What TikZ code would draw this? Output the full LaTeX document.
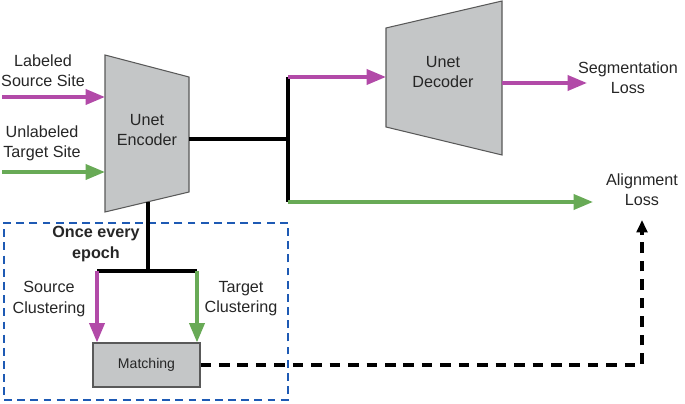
\documentclass[tikz,border=0pt]{standalone}
\usepackage{fontspec}
\setmainfont{Liberation Sans}
\usepackage{tikz}
\usetikzlibrary{positioning,arrows.meta}

\definecolor{srcpink}{RGB}{178,74,168}
\definecolor{tgtgreen}{RGB}{104,170,86}
\definecolor{boxgray}{RGB}{196,198,199}
\definecolor{epochblue}{RGB}{30,90,180}

\begin{document}
\begin{tikzpicture}[
    x=0.02cm, y=-0.02cm,
    lbl/.style={align=center, text=black!85, font=\fontsize{9.2}{11.5}\selectfont, inner sep=0pt},
    block/.style={draw=black!65, fill=boxgray, line width=0.6pt},
    arrow/.style={-{Triangle[length=11pt,width=8.5pt]}, line width=2.1pt},
    trunk/.style={line width=2.1pt},
    dasharrow/.style={-{Triangle[length=7pt,width=6pt]}, line width=2pt, dash pattern=on 6pt off 4.5pt},
    epochbox/.style={draw=epochblue, line width=1.1pt, dash pattern=on 4.5pt off 3pt, minimum width=5.68cm, minimum height=3.54cm, inner sep=0pt}
]
\useasboundingbox (0,0) rectangle (685,404);

% Epoch box
\node[epochbox] (epoch) at (146,311.5) {};

% Encoder and decoder
\coordinate (encTL) at (105,55);  \coordinate (encTR) at (189,77);
\coordinate (encBR) at (189,192); \coordinate (encBL) at (105,212);
\draw[block] (encTL) -- (encTR) -- (encBR) -- (encBL) -- cycle;
\node[lbl] (enc) at (147,130) {Unet\\Encoder};

\coordinate (decTL) at (386,28);  \coordinate (decTR) at (502,1);
\coordinate (decBR) at (502,155); \coordinate (decBL) at (386,127);
\draw[block] (decTL) -- (decTR) -- (decBR) -- (decBL) -- cycle;
\node[lbl] (dec) at (443,72) {Unet\\Decoder};

% Nodes
\node[lbl] (src) at (43,71) {Labeled\\Source Site};
\node[lbl] (tgt) at (42,143) {Unlabeled\\Target Site};
\node[lbl] (seg) at (628,78) {Segmentation\\Loss};
\node[lbl] (align) at (642,190) {Alignment\\Loss};
\node[lbl, font=\bfseries\fontsize{9.2}{11.5}\selectfont] (once) at (96,244) {Once every\\epoch};
\node[lbl] (srcclu) at (49,299) {Source\\Clustering};
\node[lbl] (tgtclu) at (241,299) {Target\\Clustering};
\node[block, minimum width=2.14cm, minimum height=0.88cm, font=\fontsize{8}{10}\selectfont, text=black!85] (match) at (146.5,365) {Matching};

% Joints
\coordinate (srcIn) at (2,97);   \coordinate (srcEnc) at (105,97);
\coordinate (tgtIn) at (2,172);  \coordinate (tgtEnc) at (105,172);
\coordinate (encR) at (189,139); \coordinate (fork) at (288,139);
\coordinate (forkT) at (288,77); \coordinate (forkB) at (288,202);
\coordinate (decIn) at (386,77); \coordinate (decOut) at (502,83);
\coordinate (segIn) at (587,83); \coordinate (alignIn) at (593,202);
\coordinate (encB) at (148,202); \coordinate (split) at (148,271);
\coordinate (splitL) at (97,271); \coordinate (splitR) at (197,271);
\coordinate (alignDash) at (642,220);

% Arrows
\draw[arrow, srcpink] (srcIn) -- (srcEnc);
\draw[arrow, tgtgreen] (tgtIn) -- (tgtEnc);
\draw[trunk] (encR) -- (fork);
\draw[trunk] (forkT) -- (forkB);
\draw[arrow, srcpink] (forkT) -- (decIn);
\draw[arrow, srcpink] (decOut) -- (segIn);
\draw[arrow, tgtgreen] (forkB) -- (alignIn);
\draw[trunk] (encB) -- (split);
\draw[trunk] (splitL) -- (splitR);
\draw[arrow, srcpink] (splitL) -- (splitL |- match.north);
\draw[arrow, tgtgreen] (splitR) -- (splitR |- match.north);
\draw[dasharrow] (match.east) -| (alignDash);

\end{tikzpicture}
\end{document}
